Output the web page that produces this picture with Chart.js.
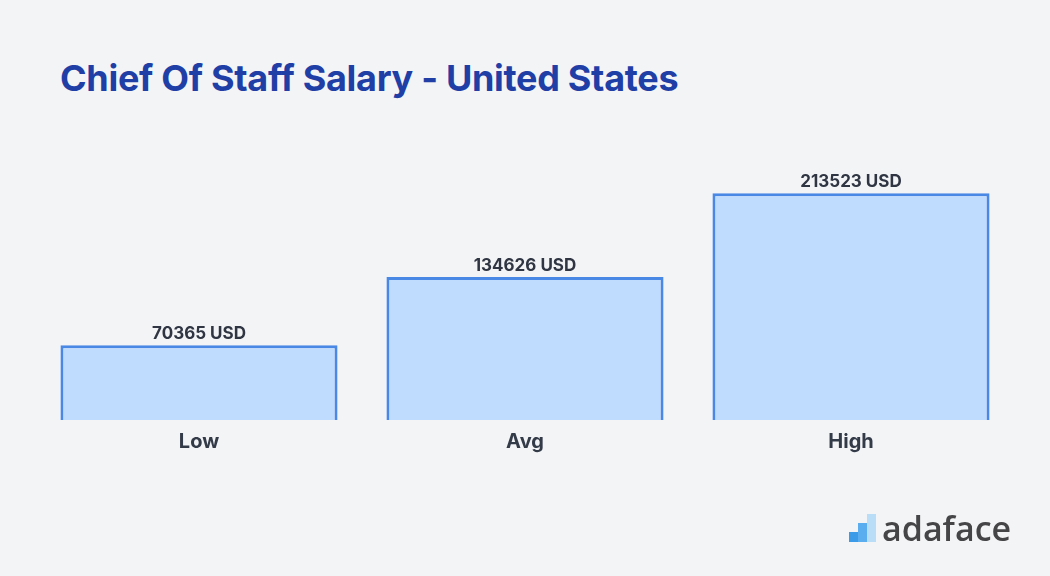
<!DOCTYPE html>
<html>
<head>
<meta charset="utf-8">
<script src="https://cdn.jsdelivr.net/npm/chart.js@4"></script>
<style>
  html, body { margin:0; padding:0; background:#f3f4f6; }
  #wrap { position:relative; width:1050px; height:576px; overflow:hidden; }
  #title { position:absolute; left:60px; top:56px; margin:0; font-family:Inter, "Noto Sans", sans-serif; font-weight:700; font-size:36px; color:#1f3ea6; letter-spacing:-0.3px; }
  #chart { position:absolute; left:0; top:0; }
  #logo { position:absolute; left:848px; top:508px; height:40px; }
  #logo .b { position:absolute; bottom:6px; }
  #logo .txt { position:absolute; left:34px; top:-3px; font-family:"Open Sans", Lato, sans-serif; font-weight:600; font-size:34px; color:#454547; }
</style>
</head>
<body>
<div id="wrap">
  <h1 id="title">Chief Of Staff Salary - United States</h1>
  <canvas id="chart" width="1050" height="576"></canvas>
  <div id="logo">
    <div class="b" style="left:1px;width:9px;height:10px;background:#3b9be8"></div>
    <div class="b" style="left:10px;width:9px;height:19px;background:#5aaef0"></div>
    <div class="b" style="left:19px;width:9px;height:28px;background:#b9ddf7"></div>
    <div class="txt">adaface</div>
  </div>
</div>
<script>
// 데이터
var categories = ["Low", "Avg", "High"];
var salaries = [70365, 134626, 213523];
var valueLabels = salaries.map(function(v){ return v + " USD"; });

// 막대 위 금액 표시
var valueLabelPlugin = {
    id: "valueLabels",
    afterDatasetsDraw: function(chart) {
        var ctx = chart.ctx;
        var meta = chart.getDatasetMeta(0);
        ctx.save();
        ctx.font = "700 17px Inter, 'Noto Sans', sans-serif";
        ctx.fillStyle = "#2f3542";
        ctx.textAlign = "center";
        ctx.textBaseline = "bottom";
        meta.data.forEach(function(bar, i){
            ctx.fillText(valueLabels[i], bar.x, bar.y - 3);
        });
        ctx.restore();
    }
};

var ctx = document.getElementById("chart").getContext("2d");
new Chart(ctx, {
    type: "bar",
    data: {
        labels: categories,
        datasets: [{
            data: salaries,
            backgroundColor: "#bfdbfe",
            borderColor: "#4a88e6",
            borderWidth: 3,
            borderSkipped: "bottom",
            barPercentage: 0.85,
            categoryPercentage: 1.0
        }]
    },
    options: {
        responsive: false,
        animation: false,
        layout: { padding: { left: 36, right: 36, top: 165, bottom: 120 } },
        plugins: {
            legend: { display: false },
            tooltip: { enabled: false }
        },
        scales: {
            y: { display: false, min: 0, max: 240000 },
            x: {
                grid: { display: false },
                border: { display: false },
                ticks: {
                    padding: 2,
                    color: "#333a48",
                    font: { family: "Inter, 'Noto Sans', sans-serif", size: 20, weight: "700" }
                }
            }
        }
    },
    plugins: [valueLabelPlugin]
});
</script>
</body>
</html>
